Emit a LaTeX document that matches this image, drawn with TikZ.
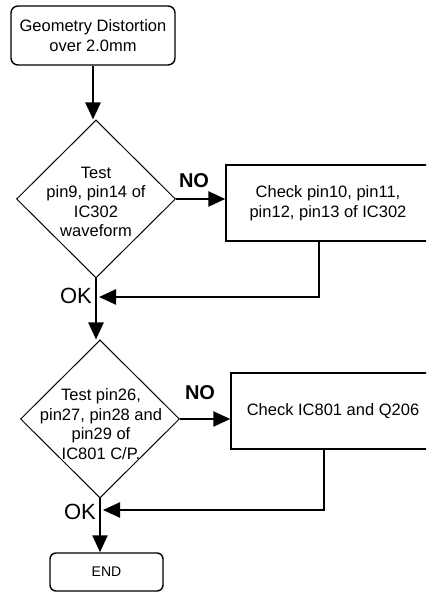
\documentclass[tikz,border=0pt]{standalone}
\usepackage{fontspec}
\setmainfont{Liberation Sans}
\usetikzlibrary{arrows.meta,shapes.geometric}
\begin{document}
\begin{tikzpicture}[x=1pt,y=1pt,
  txt/.style={font=\fontsize{16.5}{19.5}\selectfont, align=center, inner sep=0pt},
  startbox/.style={draw, line width=1.4pt, rounded corners=7pt, minimum width=164pt, minimum height=59pt, inner sep=0pt, txt},
  endbox/.style={draw, line width=1.4pt, rounded corners=6pt, minimum width=113pt, minimum height=38pt, inner sep=0pt, font=\fontsize{14}{16}\selectfont},
  procbox/.style={draw, line width=1.4pt, minimum width=204pt, minimum height=76pt, inner sep=0pt, txt},
  decision/.style={draw, diamond, line width=1pt, minimum width=159pt, minimum height=158pt, inner sep=0pt},
  conn/.style={line width=2.4pt, -{Triangle[length=17pt,width=15pt]}},
  plain/.style={line width=2.4pt},
  nolabel/.style={font=\fontsize{20}{22}\selectfont\bfseries, inner sep=0pt},
  oklabel/.style={font=\fontsize{22}{24}\selectfont, inner sep=0pt}
]
\useasboundingbox (0,0) rectangle (426,593);
\clip (0,0) rectangle (426,593);

\node[startbox] (start) at (93,557.5) {Geometry Distortion\\over 2.0mm};

\node[decision] (d1) at (96,394) {};
\node[txt] (d1text) at (96,391) {Test\\pin9, pin14 of\\IC302\\waveform};
\node[nolabel] (no1) at (194,412) {NO};
\node[procbox] (box2) at (328,390) {Check pin10, pin11,\\pin12, pin13 of IC302};
\coordinate (m1) at (96,296);
\node[oklabel] (ok1) at (76,297) {OK};

\node[decision] (d2) at (100,174) {};
\node[txt] (d2text) at (101,169) {Test pin26,\\pin27, pin28 and\\pin29 of\\IC801 C/P.};
\node[nolabel] (no2) at (200,200) {NO};
\node[procbox] (box3) at (333,182) {Check IC801 and Q206};
\coordinate (m2) at (100,83);
\node[oklabel] (ok2) at (80,81) {OK};

\node[endbox] (end) at (106.5,21) {END};

% connectors
\draw[conn] (start.south) -- (start.south |- d1.north);
\draw[conn] (d1.east) -- (d1.east -| box2.west);
\draw[plain] (d1.south) -- (m1);
\draw[conn] (m1) -- (m1 |- d2.north);
\draw[conn, shorten >=3pt] ([xshift=-9pt]box2.south) |- (m1);
\draw[conn] (d2.east) -- (d2.east -| box3.west);
\draw[plain] (d2.south) -- (m2);
\draw[conn] (m2) -- (m2 |- end.north);
\draw[conn, shorten >=3pt] ([xshift=-9pt]box3.south) |- (m2);
\end{tikzpicture}
\end{document}
